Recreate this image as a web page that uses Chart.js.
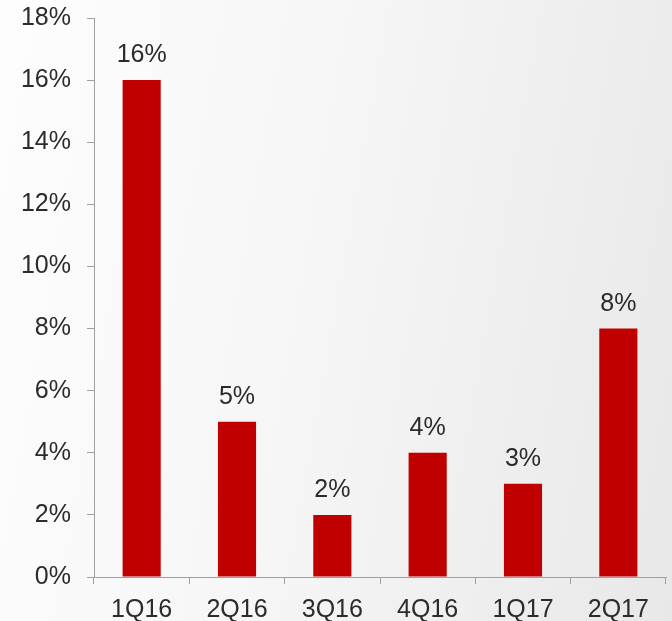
<!DOCTYPE html>
<html>
<head>
<meta charset="utf-8">
<script src="https://cdn.jsdelivr.net/npm/chart.js@4.4.1/dist/chart.umd.min.js"></script>
<style>
  html, body {
    margin: 0;
    padding: 0;
  }
  body {
    width: 672px;
    height: 621px;
    background: linear-gradient(100deg, #fdfdfd 0%, #f6f6f6 45%, #e8e8e8 100%);
  }
  #wrap {
    width: 672px;
    height: 621px;
    position: relative;
  }
</style>
</head>
<body>
<div id="wrap"><canvas id="growthChart"></canvas></div>
<script>
const quarters = ['1Q16', '2Q16', '3Q16', '4Q16', '1Q17', '2Q17'];
const growthPct = [16, 5, 2, 4, 3, 8];

const FONT = '"Liberation Sans", Arial, sans-serif';
const TEXT = '#2b2b2b';
const AXIS = '#a0a0a0';

// value labels drawn above each bar
const barLabels = {
  id: 'barLabels',
  afterDatasetsDraw(chart) {
    const ctx = chart.ctx;
    const meta = chart.getDatasetMeta(0);
    ctx.save();
    ctx.font = '25px ' + FONT;
    ctx.fillStyle = TEXT;
    ctx.textAlign = 'center';
    ctx.textBaseline = 'alphabetic';
    meta.data.forEach((bar, i) => {
      ctx.fillText(growthPct[i] + '%', bar.x, bar.y - 18);
    });
    ctx.restore();
  }
};

new Chart(document.getElementById('growthChart'), {
  type: 'bar',
  data: {
    labels: quarters,
    datasets: [{
      data: growthPct,
      backgroundColor: '#c00000',
      borderWidth: 0,
      barPercentage: 0.4,
      categoryPercentage: 1
    }]
  },
  options: {
    responsive: true,
    maintainAspectRatio: false,
    animation: false,
    layout: {
      padding: { top: 18, right: 6, left: 0, bottom: 0 }
    },
    plugins: {
      legend: { display: false },
      tooltip: { enabled: false }
    },
    scales: {
      x: {
        offset: true,
        grid: {
          offset: true,
          drawOnChartArea: false,
          drawTicks: true,
          tickLength: 7,
          color: AXIS
        },
        border: { color: AXIS, width: 1 },
        ticks: {
          color: TEXT,
          font: { family: FONT, size: 25 },
          padding: 11,
          maxRotation: 0
        },
        afterFit(scale) {
          scale.height = 44;
          scale.paddingLeft = 0;
          scale.paddingRight = 0;
        }
      },
      y: {
        min: 0,
        max: 18,
        grid: {
          drawOnChartArea: false,
          drawTicks: true,
          tickLength: 7,
          color: AXIS
        },
        border: { color: AXIS, width: 1 },
        ticks: {
          stepSize: 2,
          color: TEXT,
          font: { family: FONT, size: 25 },
          padding: 16,
          callback: v => v + '%'
        },
        afterFit(scale) {
          scale.width = 94;
          scale.paddingTop = 0;
          scale.paddingBottom = 0;
        }
      }
    }
  },
  plugins: [barLabels]
});
</script>
</body>
</html>
